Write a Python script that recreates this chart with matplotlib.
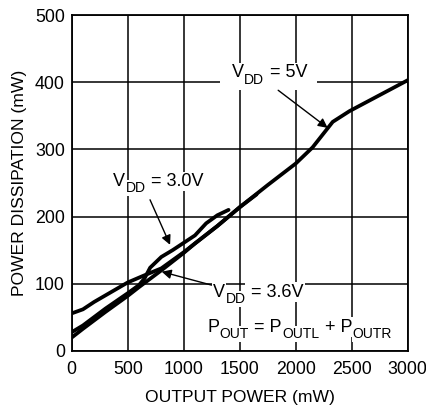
import matplotlib
matplotlib.use('Agg')
import matplotlib.pyplot as plt
from matplotlib.patches import Rectangle

plt.rcParams['font.family'] = ['Liberation Sans', 'DejaVu Sans']

# output power (mW) vs power dissipation (mW)
x_5v = [0, 100, 200, 500, 640, 800, 1000, 1100, 1300, 1500, 1750, 2000, 2150, 2330, 2480, 3000]
y_5v = [56, 62, 73, 102, 112, 123, 147, 160, 186, 214, 247, 279, 303, 341, 357, 403]

x_36v = [0, 100, 300, 500, 600, 800, 1000, 1100, 1300, 1500, 1650]
y_36v = [20, 33, 58, 82, 95, 120, 146, 160, 186, 214, 233]

x_30v = [0, 100, 300, 500, 600, 650, 700, 800, 900, 1000, 1100, 1200, 1300, 1400]
y_30v = [28, 38, 63, 86, 98, 108, 124, 140, 150, 161, 172, 190, 202, 210]

x_ticks = [0, 500, 1000, 1500, 2000, 2500, 3000]
y_ticks = [0, 100, 200, 300, 400, 500]

fig = plt.figure(figsize=(4.27, 4.11), dpi=100)
ax = fig.add_axes([0.168, 0.146, 0.787, 0.8175])

ax.set_xlim(0, 3000)
ax.set_ylim(0, 500)
ax.set_xticks(x_ticks)
ax.set_yticks(y_ticks)
ax.tick_params(length=0, labelsize=12.8)
ax.tick_params(axis='x', pad=7)
ax.tick_params(axis='y', pad=5)
ax.grid(True, color='black', lw=1.1)
for s in ax.spines.values():
    s.set_linewidth(1.3)

for xs, ys in [(x_5v, y_5v), (x_36v, y_36v), (x_30v, y_30v)]:
    ax.plot(xs, ys, color='black', lw=2.7, solid_capstyle='round', zorder=3)

ax.set_xlabel('OUTPUT POWER (mW)', fontsize=12.6, labelpad=9)
ax.set_ylabel('POWER DISSIPATION (mW)', fontsize=12.6, labelpad=6)

box = dict(facecolor='white', edgecolor='none', pad=0.8)


def label(x, y, parts, size=13, sub_size=10):
    # chain text pieces; subscripts sit below the main baseline
    t = ax.text(x, y, parts[0][0], fontsize=size, va='baseline', ha='left',
                bbox=box, zorder=5)
    prev = t
    for s, is_sub in parts[1:]:
        dy = -4.5 if is_sub else 0
        prev = ax.annotate(s, xy=(1, y), xycoords=(prev, 'data'),
                           xytext=(0.3, dy), textcoords='offset points',
                           fontsize=sub_size if is_sub else size,
                           va='baseline', ha='left', bbox=box, zorder=5)
    return t


def arrow(start, tip):
    ax.annotate('', xy=tip, xytext=start,
                arrowprops=dict(arrowstyle='-|>', color='black', lw=1.0,
                                mutation_scale=14, shrinkA=0, shrinkB=0),
                zorder=4)


# gap in the 400 gridline behind the 5V label
ax.add_patch(Rectangle((1325, 388), 865, 26, facecolor='white',
                       edgecolor='none', zorder=2))

label(1430, 407, [('V', False), ('DD', True), (' = 5V', False)])
arrow((1843, 388), (2285, 332))

label(370, 246, [('V', False), ('DD', True), (' = 3.0V', False)])
arrow((699, 225), (878, 158))

label(1262, 81, [('V', False), ('DD', True), (' = 3.6V', False)])
arrow((1249, 98), (803, 118))

label(1208, 29, [('P', False), ('OUT', True), (' = P', False), ('OUTL', True),
                 (' + P', False), ('OUTR', True)])

fig.savefig('out.png', dpi=100)
